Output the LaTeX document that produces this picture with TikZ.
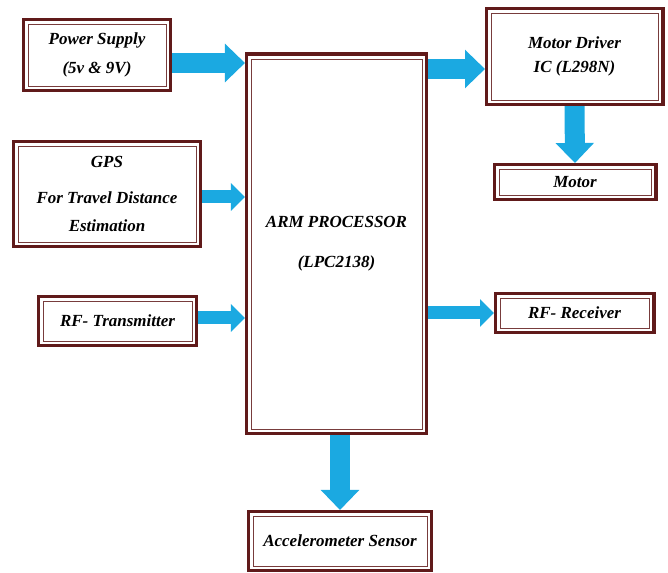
\documentclass[tikz,border=0pt]{standalone}
\usepackage{fontspec}
\setmainfont{Liberation Serif}
\usepackage{xcolor}
\usetikzlibrary{arrows.meta,positioning}
\definecolor{boxred}{RGB}{96,26,26}
\definecolor{arrowblue}{RGB}{27,169,225}

\begin{document}
\begin{tikzpicture}[
  x=0.03cm, y=-0.03cm,
  every node/.style={font=\bfseries\itshape\fontsize{14.5}{24.5}\selectfont},
  blockbox/.style={draw=boxred!85, line width=0.8pt, fill=white, align=center,
                   inner sep=0pt, outer sep=0.18cm},
  frame/.style={draw=boxred, line width=3.4pt},
  bigflow/.style={draw=arrowblue, line width=0.6cm,
                  -{Triangle[width=1.12cm, length=0.6cm]}},
  smallflow/.style={draw=arrowblue, line width=0.39cm,
                    -{Triangle[width=0.8cm, length=0.42cm]}}
]
\useasboundingbox (0,0) rectangle (668,573);

% Input blocks
\node[blockbox, minimum width=4.14cm, minimum height=1.86cm] (pwr) at (97,55)
  {Power Supply\\(5v \& 9V)};
\node[blockbox, minimum width=5.34cm, minimum height=2.88cm] (gps) at (107,194)
  {GPS\\[6pt]For Travel Distance\\Estimation};
\node[blockbox, minimum width=4.47cm, minimum height=1.2cm] (rftx) at (117.5,321)
  {RF- Transmitter};

% Controller
\node[blockbox, minimum width=5.13cm, minimum height=11.1cm] (arm) at (336.5,244)
  {ARM PROCESSOR\\[9.5pt](LPC2138)};

% Output blocks
\node[blockbox, minimum width=5.01cm, minimum height=2.61cm] (drv) at (574.5,56.5)
  {Motor Driver\\[-4pt]IC (L298N)};
\node[blockbox, minimum width=4.56cm, minimum height=0.78cm] (motor) at (575,182)
  {Motor};
\node[blockbox, minimum width=4.47cm, minimum height=0.9cm] (rfrx) at (574.5,313)
  {RF- Receiver};
\node[blockbox, minimum width=5.22cm, minimum height=1.5cm] (acc) at (340,541)
  {Accelerometer Sensor};

% Arrow start points
\coordinate (pwrout) at ([yshift=-0.24cm]pwr.east);
\coordinate (gpsout) at ([yshift=-0.09cm]gps.east);
\coordinate (rftxout) at ([yshift=0.09cm]rftx.east);
\coordinate (drvin) at ([yshift=-0.375cm]drv.west);

% Flow arrows
\draw[bigflow] (pwrout) -- (pwrout -| arm.west);
\draw[smallflow] (gpsout) -- (gpsout -| arm.west);
\draw[smallflow] (rftxout) -- (rftxout -| arm.west);
\draw[bigflow] (drvin -| arm.east) -- (drvin);
\draw[bigflow] (drv.south) -- (motor.north);
\draw[smallflow] (rfrx.west -| arm.east) -- (rfrx.west);
\draw[bigflow] (acc.north |- arm.south) -- (acc.north);

% Double borders
\foreach \n in {pwr,gps,rftx,arm,drv,motor,rfrx,acc}
  \draw[frame] ([shift={(0.045cm,0.045cm)}]\n.south west)
    rectangle ([shift={(-0.045cm,-0.045cm)}]\n.north east);
\end{tikzpicture}
\end{document}
